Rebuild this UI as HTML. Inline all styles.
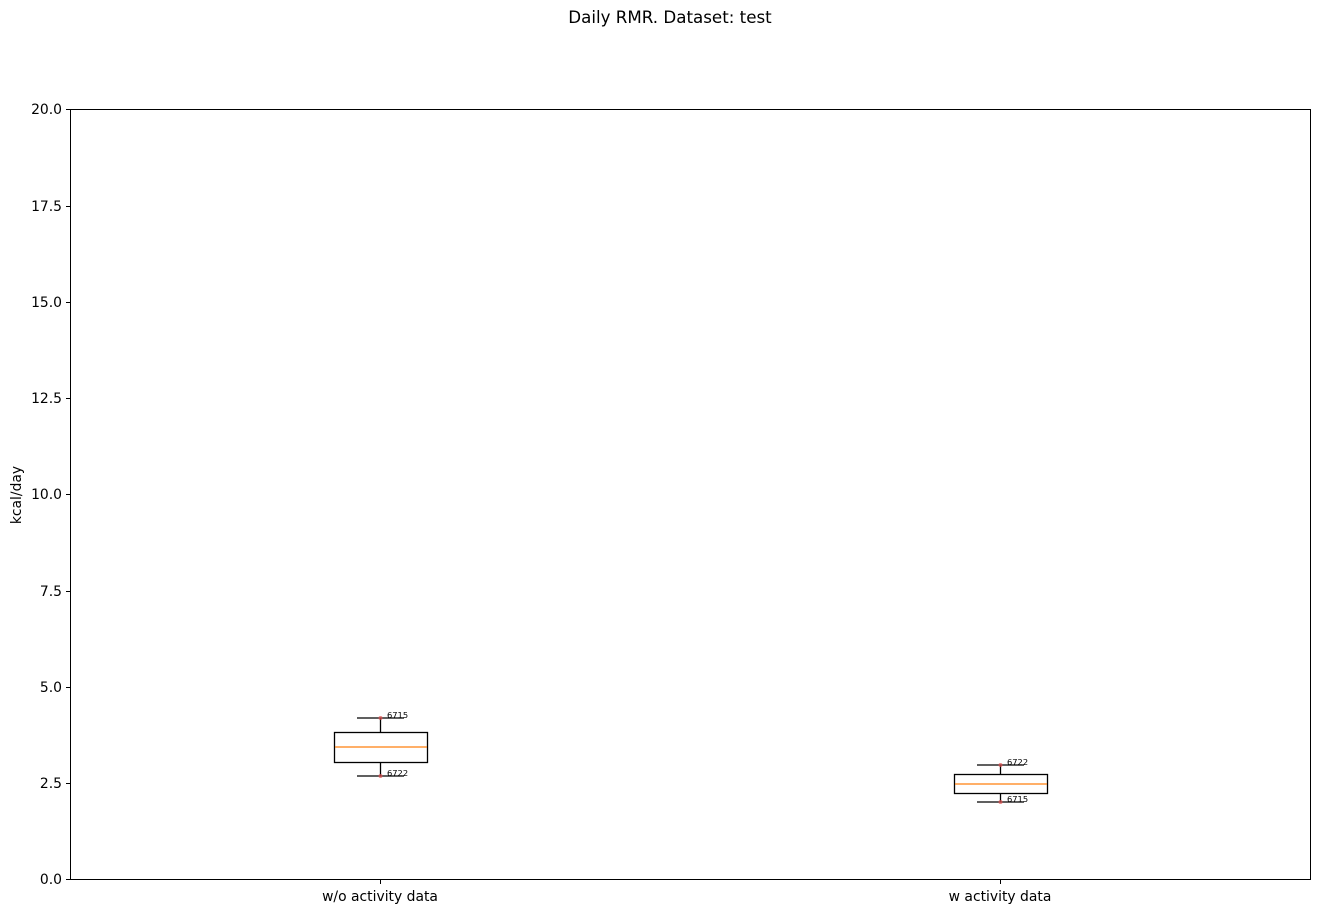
<!DOCTYPE html>
<html><head><style>body{margin:0;background:#fff}</style></head><body>
<svg width="1320" height="913" xmlns="http://www.w3.org/2000/svg" font-family="DejaVu Sans, sans-serif">
<rect width="1320" height="913" fill="#fff"/>
<text x="670" y="23" font-size="16.7" text-anchor="middle">Daily RMR. Dataset: test</text>
<rect x="70.5" y="109.5" width="1240" height="770" fill="none" stroke="#000" stroke-width="1"/>
<g stroke="#000" stroke-width="1">
<line x1="66" y1="879.5" x2="70" y2="879.5"/><line x1="66" y1="783.5" x2="70" y2="783.5"/>
<line x1="66" y1="687.5" x2="70" y2="687.5"/><line x1="66" y1="591.5" x2="70" y2="591.5"/>
<line x1="66" y1="494.5" x2="70" y2="494.5"/><line x1="66" y1="398.5" x2="70" y2="398.5"/>
<line x1="66" y1="302.5" x2="70" y2="302.5"/><line x1="66" y1="206.5" x2="70" y2="206.5"/>
<line x1="66" y1="109.5" x2="70" y2="109.5"/>
<line x1="380.5" y1="880" x2="380.5" y2="884"/><line x1="1000.5" y1="880" x2="1000.5" y2="884"/>
</g>
<g font-size="13.9" text-anchor="end">
<text x="62" y="884">0.0</text><text x="62" y="788">2.5</text><text x="62" y="692">5.0</text>
<text x="62" y="596">7.5</text><text x="62" y="499">10.0</text><text x="62" y="403">12.5</text>
<text x="62" y="307">15.0</text><text x="62" y="211">17.5</text><text x="62" y="114">20.0</text>
</g>
<g font-size="13.9" text-anchor="middle">
<text x="380" y="901">w/o activity data</text><text x="1000" y="901">w activity data</text>
</g>
<text transform="translate(21,495) rotate(-90)" font-size="13.9" text-anchor="middle">kcal/day</text>
<g stroke="#000" stroke-width="1.3" fill="none">
<rect x="334.5" y="732.5" width="93" height="30"/>
<line x1="380.5" y1="718" x2="380.5" y2="732"/><line x1="380.5" y1="763" x2="380.5" y2="776"/>
<line x1="357" y1="718" x2="404" y2="718"/><line x1="357" y1="776" x2="404" y2="776"/>
<rect x="954.5" y="774.5" width="93" height="19"/>
<line x1="1000.5" y1="765" x2="1000.5" y2="774"/><line x1="1000.5" y1="794" x2="1000.5" y2="802"/>
<line x1="977" y1="765" x2="1024" y2="765"/><line x1="977" y1="802" x2="1024" y2="802"/>
</g>
<line x1="335" y1="747" x2="427" y2="747" stroke="#ff7f0e" stroke-width="1.3"/>
<line x1="955" y1="784" x2="1047" y2="784" stroke="#ff7f0e" stroke-width="1.3"/>
<g fill="#e05050" opacity="0.7">
<circle cx="380.5" cy="718" r="2"/><circle cx="380.5" cy="776" r="2"/>
<circle cx="1000.5" cy="765" r="2"/><circle cx="1000.5" cy="802" r="2"/>
</g>
<g font-size="8.3">
<text x="387" y="718">6715</text><text x="387" y="776">6722</text>
<text x="1007" y="765">6722</text><text x="1007" y="802">6715</text>
</g>
</svg>
</body></html>
